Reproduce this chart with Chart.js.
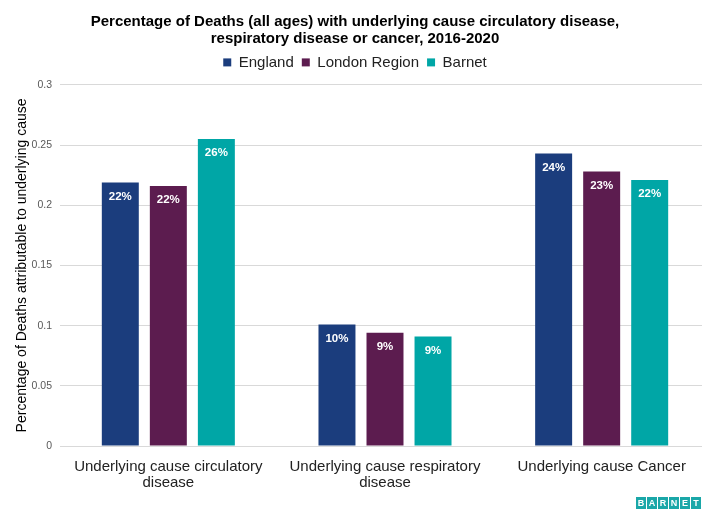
<!DOCTYPE html>
<html>
<head>
<meta charset="utf-8">
<script src="https://cdn.jsdelivr.net/npm/chart.js@4/dist/chart.umd.min.js"></script>
<style>
  html, body { margin: 0; padding: 0; background: #fff; overflow: hidden; width: 702px; height: 515px; }
  #wrap { position: relative; width: 710px; height: 515px; }
  #logo { position: absolute; left: 636px; top: 497px; display: flex; gap: 1px; font-family: "Liberation Sans", Arial, sans-serif; }
  #logo span { display: inline-block; width: 10px; height: 12px; background: #1aa7a8; color: #fff; font-size: 9px; line-height: 12px; text-align: center; font-weight: bold; }
</style>
</head>
<body>
<div id="wrap">
  <canvas id="c" width="710" height="515"></canvas>
  <div id="logo"><span>B</span><span>A</span><span>R</span><span>N</span><span>E</span><span>T</span></div>
</div>
<script>
// Categories (x axis, wrapped onto two lines where needed)
const categories = [
  ["Underlying cause circulatory", "disease"],
  ["Underlying cause respiratory", "disease"],
  "Underlying cause Cancer"
];

// Share of deaths by underlying cause, 2016-2020
const england = [0.219, 0.101, 0.243];
const londonRegion = [0.216, 0.094, 0.228];
const barnet = [0.255, 0.091, 0.221];

const seriesNames = ["England", "London Region", "Barnet"];
const seriesColors = ["#1b3d7d", "#5c1c4f", "#00a6a6"];

const yTicks = { min: 0, max: 0.3, step: 0.05 };

const font = "'Liberation Sans', Arial, sans-serif";

// Writes the rounded percentage inside the top of each bar
const barValueLabels = {
  id: "barValueLabels",
  afterDatasetsDraw(chart) {
    const ctx = chart.ctx;
    ctx.save();
    ctx.fillStyle = "#ffffff";
    ctx.font = "bold 11.5px " + font;
    ctx.textAlign = "center";
    ctx.textBaseline = "middle";
    chart.data.datasets.forEach((ds, i) => {
      const meta = chart.getDatasetMeta(i);
      meta.data.forEach((bar, j) => {
        const v = ds.data[j];
        ctx.fillText(Math.round(v * 100) + "%", bar.x, bar.y + 14);
      });
    });
    ctx.restore();
  }
};

// Leaves extra room between the legend and the plot area
const legendGap = {
  id: "legendGap",
  beforeInit(chart) {
    const fit = chart.legend.fit;
    chart.legend.fit = function () {
      fit.bind(chart.legend)();
      this.height += 5;
    };
  }
};

const datasets = [england, londonRegion, barnet].map((values, i) => ({
  label: seriesNames[i],
  data: values,
  backgroundColor: seriesColors[i],
  borderWidth: 0,
  categoryPercentage: 0.665,
  barPercentage: 0.77
}));

new Chart(document.getElementById("c"), {
  type: "bar",
  data: { labels: categories, datasets },
  plugins: [barValueLabels, legendGap],
  options: {
    responsive: false,
    animation: false,
    layout: { padding: { left: 0, right: 0, top: 0, bottom: 0 } },
    plugins: {
      title: {
        display: true,
        text: [
          "Percentage of Deaths (all ages) with underlying cause circulatory disease,",
          "respiratory disease or cancer, 2016-2020"
        ],
        color: "#000000",
        font: { family: font, size: 15, weight: "bold", lineHeight: 1.13 },
        padding: { top: 13, bottom: 0 }
      },
      legend: {
        display: true,
        position: "top",
        labels: {
          color: "#222222",
          font: { family: font, size: 15 },
          boxWidth: 8,
          boxHeight: 8,
          padding: 8
        }
      },
      tooltip: { enabled: false }
    },
    scales: {
      x: {
        grid: { display: false },
        border: { display: false },
        ticks: {
          color: "#222222",
          font: { family: font, size: 15, lineHeight: 1.07 },
          maxRotation: 0,
          autoSkip: false,
          padding: 5
        },
        afterFit(scale) { scale.height = 69; }
      },
      y: {
        min: yTicks.min,
        max: yTicks.max,
        ticks: {
          stepSize: yTicks.step,
          color: "#595959",
          font: { family: font, size: 10.5 },
          padding: 8,
          callback: (v) => String(+Number(v).toFixed(2))
        },
        grid: { color: "#d9d9d9", drawTicks: false, lineWidth: 1 },
        border: { display: false },
        title: {
          display: true,
          text: "Percentage of Deaths attributable to underlying cause",
          color: "#000000",
          font: { family: font, size: 14 },
          padding: { top: 14, bottom: 0 }
        },
        afterFit(scale) { scale.width = 60; }
      }
    }
  }
});
</script>
</body>
</html>
